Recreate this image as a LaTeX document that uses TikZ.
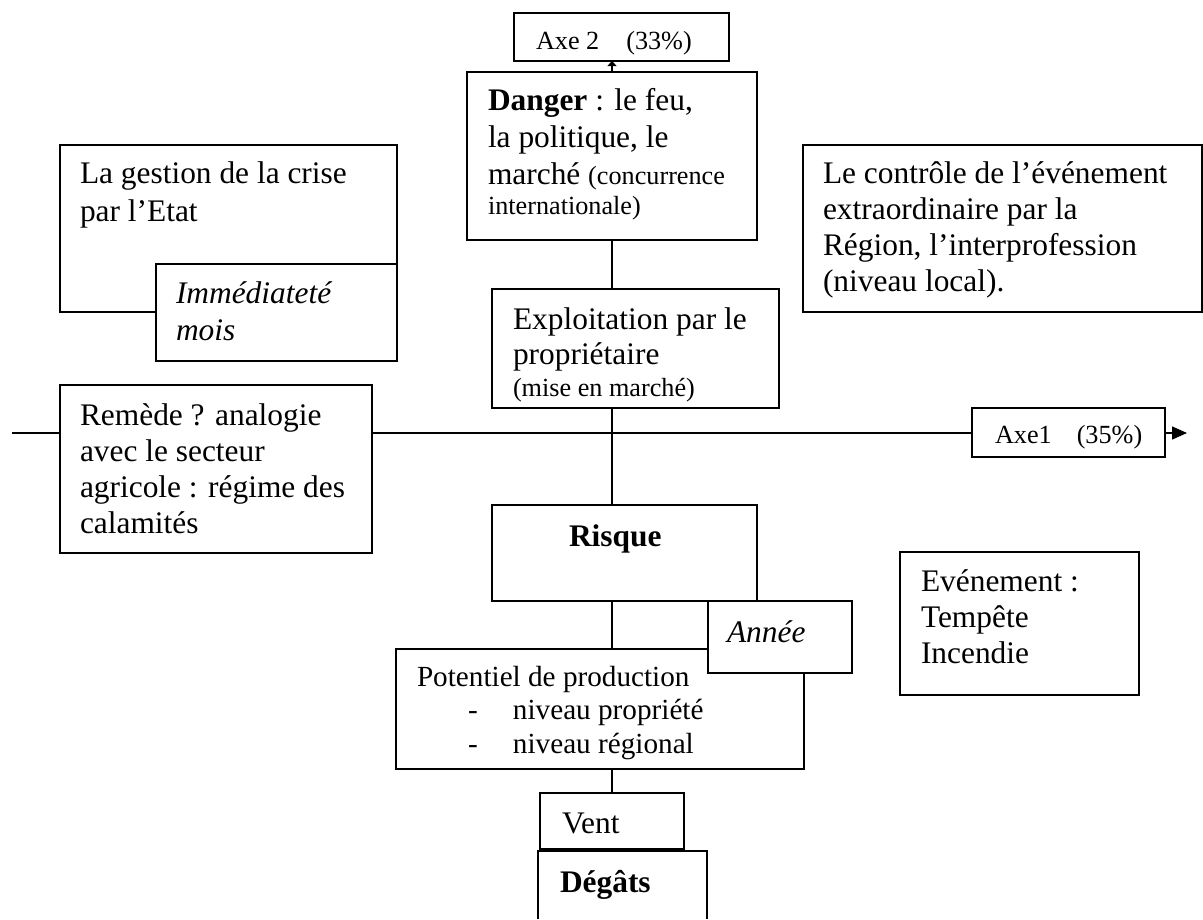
\documentclass[tikz,border=0pt]{standalone}
\usepackage{fontspec}
\setmainfont{Liberation Serif}
\usetikzlibrary{arrows.meta}

% text sizes: body text and the smaller remarks
\newcommand\bodysz{\fontsize{31.4}{36}\selectfont}
\newcommand\smallsz{\fontsize{26.2}{30}\selectfont}

\tikzset{
  box/.style={draw, line width=1.8pt, fill=white, inner sep=0pt, outer sep=0pt, anchor=north west},
  openbox/.style={draw=none, inner sep=0pt, outer sep=0pt, anchor=north west},
  txt/.style={inner sep=0pt, outer sep=0pt, anchor=base west, font=\bodysz},
  smalltxt/.style={txt, font=\smallsz},
  link/.style={line width=1.5pt},
}

\begin{document}
\begin{tikzpicture}[x=1pt, y=-1pt]
\fill[white] (0,0) rectangle (1203,919);
\useasboundingbox (0,0) rectangle (1203,919);

% ---------- boxes ----------
\node[box, minimum width=215pt, minimum height=48pt]  (axe2)      at (514,13)  {};
\node[box, minimum width=290pt, minimum height=168pt] (danger)    at (467,72)  {};
\node[box, minimum width=287pt, minimum height=119pt] (exploit)   at (492,289) {};
\node[box, minimum width=337pt, minimum height=167pt] (gestion)   at (60,145)  {};
\node[box, minimum width=241pt, minimum height=97pt]  (immed)     at (156,264) {};
\node[box, minimum width=399pt, minimum height=167pt] (controle)  at (803,145) {};
\node[box, minimum width=312pt, minimum height=168pt] (remede)    at (60,385)  {};
\node[box, minimum width=193pt, minimum height=49pt]  (axe1)      at (972,408) {};
\node[box, minimum width=265pt, minimum height=96pt]  (risque)    at (492,505) {};
\node[box, minimum width=408pt, minimum height=120pt] (potentiel) at (396,649) {};
\node[box, minimum width=144pt, minimum height=72pt]  (annee)     at (708,601) {};
\node[box, minimum width=239pt, minimum height=143pt] (evenement) at (900,552) {};
\node[box, minimum width=144pt, minimum height=56pt]  (vent)      at (540,793) {};
\node[openbox, minimum width=169pt, minimum height=68pt] (degats) at (538,851) {};
\draw[line width=1.8pt] (degats.south west) -- (degats.north west)
  -- (degats.north east) -- (degats.south east);

% ---------- texts ----------
\node[smalltxt] (axe2-t) at (536,49) {Axe 2\hspace*{27pt}(33\%)};
\node[smalltxt] (axe1-t) at (995,443) {Axe1\hspace*{25pt}(35\%)};

\node[txt] (danger-t) at (488,110) {\vtop{\fontsize{31.4}{37}\selectfont
  \hbox{\textbf{Danger} : le feu,}
  \hbox{la politique, le}
  \hbox{marché {\smallsz(concurrence}}
  {\smallsz\hbox{internationale)}}}};

\node[txt] (exploit-t) at (513,329) {\vtop{\fontsize{31.4}{35}\selectfont
  \hbox{Exploitation par le}
  \hbox{propriétaire}
  {\fontsize{26.2}{32}\selectfont\hbox{(mise en marché)}}}};

\node[txt] (gestion-t) at (80,183) {\vtop{\fontsize{31.4}{38}\selectfont
  \hbox{La gestion de la crise}
  \hbox{par l’Etat}}};

\node[txt] (immed-t) at (176,303) {\vtop{\fontsize{31.4}{37}\selectfont\itshape
  \hbox{Immédiateté}
  \hbox{mois}}};

\node[txt] (controle-t) at (823,183) {\vtop{
  \hbox{Le contrôle de l’événement}
  \hbox{extraordinaire par la}
  \hbox{Région, l’interprofession}
  \hbox{(niveau local).}}};

\node[txt] (remede-t) at (80,425) {\vtop{
  \hbox{Remède ? analogie}
  \hbox{avec le secteur}
  \hbox{agricole : régime des}
  \hbox{calamités}}};

\node[txt] (risque-t) at (569,546) {\textbf{Risque}};
\node[txt] (annee-t) at (727,642) {\textit{Année}};

\node[txt] (potentiel-t) at (417,686) {\vtop{\fontsize{29.2}{33.5}\selectfont
  \hbox{Potentiel de production}
  \hbox{\makebox[96pt][l]{\hspace*{51pt}-}niveau propriété}
  \hbox{\makebox[96pt][l]{\hspace*{51pt}-}niveau régional}}};

\node[txt] (evenement-t) at (921,591) {\vtop{
  \hbox{Evénement :}
  \hbox{Tempête}
  \hbox{Incendie}}};

\node[txt] (vent-t) at (562,833) {Vent};
\node[txt] (degats-t) at (560,892) {\textbf{Dégâts}};

% ---------- vertical spine ----------
\coordinate (spine) at (612,0);
\draw[link, -{Triangle[length=5pt,width=9pt]}]
  (spine |- danger.north) -- (spine |- axe2.south);
\draw[link] (spine |- danger.south) -- (spine |- exploit.north);
\draw[link] (spine |- exploit.south) -- (spine |- risque.north);
\draw[link] (spine |- risque.south) -- (spine |- potentiel.north);
\draw[link] (spine |- potentiel.south) -- (spine |- vent.north);

% ---------- horizontal axis ----------
\coordinate (axstart) at (12,433);
\coordinate (axend) at (1187,433);
\draw[link] (axstart) -- (remede.west |- axstart);
\draw[link] (remede.east |- axstart) -- (axe1.west |- axstart);
\draw[link, -{Triangle[length=15pt,width=13pt]}] (axe1.east |- axstart) -- (axend);
\end{tikzpicture}
\end{document}
